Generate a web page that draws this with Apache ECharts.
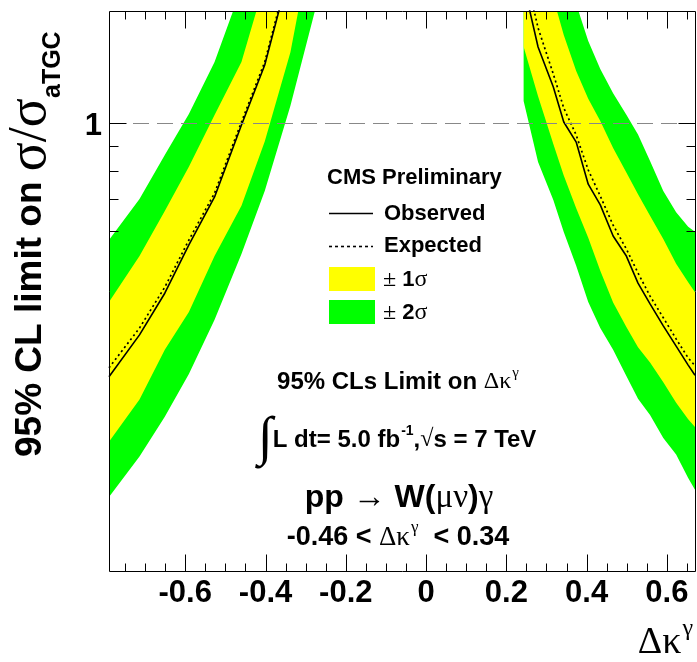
<!DOCTYPE html>
<html><head><meta charset="utf-8">
<script src="https://cdn.jsdelivr.net/npm/echarts@6/dist/echarts.min.js"></script>
<style>html,body{margin:0;padding:0;background:#fff}#c{width:697px;height:662px}</style>
</head><body><div id="c"></div>
<script>
// ---- axis ranges ----
const xMin = -0.79, xMax = 0.67, yMin = 0.12, yMax = 1.7;

// ---- left branch (Δκγ < 0) ----
const xLeft   = [-0.79, -0.714, -0.651, -0.591, -0.527, -0.460, -0.402, -0.338, -0.277];
const obsLeft = [0.302, 0.368, 0.448, 0.563, 0.706, 0.992, 1.317, 2.093, 3.31];
const expLeft = [0.315, 0.380, 0.461, 0.576, 0.719, 1.006, 1.336, 2.123, 3.357];
const p2Left  = [0.576, 0.699, 0.861, 1.045, 1.336, 1.895, 2.577, 3.587, 4.97];
const p1Left  = [0.430, 0.534, 0.661, 0.814, 1.040, 1.336, 1.944, 2.913, 4.334];
const m1Left  = [0.222, 0.271, 0.343, 0.410, 0.534, 0.677, 0.918, 1.399, 2.565];
const m2Left  = [0.171, 0.207, 0.250, 0.306, 0.395, 0.539, 0.726, 1.086, 1.70];

// ---- right branch (Δκγ > 0) ----
const xRight   = [0.243, 0.279, 0.317, 0.343, 0.374, 0.404, 0.434, 0.466, 0.499, 0.528, 0.558, 0.591, 0.623, 0.653, 0.67];
const obsRight = [1.931, 1.434, 1.187, 1.006, 0.915, 0.750, 0.680, 0.587, 0.534, 0.470, 0.426, 0.384, 0.349, 0.319, 0.304];
const expRight = [2.113, 1.569, 1.262, 1.075, 0.946, 0.802, 0.709, 0.618, 0.552, 0.493, 0.442, 0.399, 0.361, 0.330, 0.318];
const p2Right  = [3.814, 3.069, 2.464, 2.113, 1.757, 1.475, 1.292, 1.152, 1.041, 0.948, 0.837, 0.726, 0.657, 0.613, 0.599];
const p1Right  = [2.955, 2.311, 1.807, 1.518, 1.280, 1.123, 1.011, 0.890, 0.793, 0.715, 0.646, 0.579, 0.515, 0.472, 0.450];
const m1Right  = [1.436, 1.136, 0.907, 0.781, 0.669, 0.582, 0.498, 0.429, 0.382, 0.347, 0.323, 0.294, 0.267, 0.247, 0.238];
const m2Right  = [1.111, 0.833, 0.696, 0.598, 0.510, 0.430, 0.380, 0.343, 0.303, 0.272, 0.252, 0.226, 0.209, 0.187, 0.177];

// ---- ticks ----
const xMajorTicks = [-0.6, -0.4, -0.2, 0, 0.2, 0.4, 0.6];
const xMinorTicks = [-0.75, -0.7, -0.65, -0.55, -0.5, -0.45, -0.35, -0.3, -0.25, -0.15, -0.1, -0.05,
                     0.05, 0.1, 0.15, 0.25, 0.3, 0.35, 0.45, 0.5, 0.55, 0.65];
const yMajorTicks = [1];
const yMinorTicks = [0.6, 0.7, 0.8, 0.9];
const yTickLabels = ['1'];
const refLine = 1;

const SANS = 'Liberation Sans', SERIF = 'Liberation Serif';
const GREEN = '#00ff00', YELLOW = '#ffff00';

const chart = echarts.init(document.getElementById('c'), null, {renderer: 'canvas'});
const zip = (xs, ys) => xs.map((x, i) => [x, ys[i]]);

const bands = [
  {xs: xLeft,  lo: m2Left,  hi: p2Left,  color: GREEN},
  {xs: xRight, lo: m2Right, hi: p2Right, color: GREEN},
  {xs: xLeft,  lo: m1Left,  hi: p1Left,  color: YELLOW},
  {xs: xRight, lo: m1Right, hi: p1Right, color: YELLOW}
];

function renderBand(params, api) {
  const b = bands[params.dataIndex];
  const pts = [];
  b.xs.forEach((x, i) => pts.push(api.coord([x, b.lo[i]])));
  for (let i = b.xs.length - 1; i >= 0; i--) pts.push(api.coord([b.xs[i], b.hi[i]]));
  const cs = params.coordSys;
  return {
    type: 'polygon', shape: {points: pts},
    style: {fill: b.color, stroke: null},
    clipPath: {type: 'rect', shape: {x: cs.x, y: cs.y, width: cs.width, height: cs.height}}
  };
}

function renderTicks(params, api) {
  const ch = [];
  const r = v => Math.round(v) + 0.5;
  const L = (x1, y1, x2, y2) => ch.push({type: 'line', shape: {x1, y1, x2, y2}, style: {stroke: '#000', lineWidth: 1}});
  const bl = api.coord([xMin, yMin]), tr = api.coord([xMax, yMax]);
  const left = r(bl[0]), bottom = r(bl[1]) - 1, right = r(tr[0]), top = r(tr[1]);
  const xt = (vals, len) => vals.forEach(v => {
    const px = r(api.coord([v, yMin])[0]);
    L(px, bottom, px, bottom - len); L(px, top, px, top + len);
  });
  const yt = (vals, len) => vals.forEach(v => {
    const py = r(api.coord([xMin, v])[1]);
    L(left, py, left + len, py); L(right, py, right - len, py);
  });
  xt(xMinorTicks, 8); xt(xMajorTicks, 17);
  yt(yMinorTicks, 9); yt(yMajorTicks, 17);
  ch.push({type: 'rect', shape: {x: left, y: top, width: right - left, height: bottom - top},
           style: {fill: null, stroke: '#000', lineWidth: 1}});
  yMajorTicks.forEach((v, i) => {
    const p = api.coord([xMin, v]);
    ch.push({type: 'text', x: p[0] - 7, y: p[1] + 3,
      style: {text: yTickLabels[i], fontSize: 31, fontWeight: 'bold', fontFamily: SANS, fill: '#000',
              align: 'right', verticalAlign: 'middle'}});
  });
  return {type: 'group', children: ch};
}

const lineBase = {type: 'line', symbol: 'none', showSymbol: false, clip: true, silent: true, z: 3};
const obsStyle = {color: '#000', width: 1.6, type: 'solid'};
const expStyle = {color: '#000', width: 1.7, type: [2, 3]};

const rich = (extra) => Object.assign({
  b:   {fontFamily: SANS, fontWeight: 'bold', fontSize: 24, fill: '#000', verticalAlign: 'middle'},
  s:   {fontFamily: SERIF, fontSize: 24, fill: '#000', verticalAlign: 'middle'},
  sup: {fontFamily: SERIF, fontSize: 15, fill: '#000', padding: [0, 0, 18, 1], verticalAlign: 'middle'}
}, extra || {});

const option = {
  animation: false,
  backgroundColor: '#fff',
  grid: {left: 109, right: 2, top: 11, bottom: 90, containLabel: false, outerBoundsMode: 'none'},
  xAxis: {
    type: 'value', min: xMin, max: xMax, z: 10,
    axisLine: {show: false}, axisTick: {show: false}, splitLine: {show: false},
    axisLabel: {customValues: xMajorTicks, formatter: v => String(Math.round(v * 10) / 10),
      fontSize: 31, fontWeight: 'bold', fontFamily: SANS, color: '#000', margin: 6}
  },
  yAxis: {
    type: 'log', logBase: 10, min: yMin, max: yMax,
    axisLine: {show: false}, axisTick: {show: false}, axisLabel: {show: false}, splitLine: {show: false}
  },
  series: [
    {type: 'custom', name: 'bands', renderItem: renderBand, clip: true, silent: true, z: 1,
     data: bands.map(() => [0, 1])},
    Object.assign({}, lineBase, {name: 'obsL', data: zip(xLeft, obsLeft), lineStyle: obsStyle,
      markLine: {silent: true, symbol: 'none', label: {show: false},
        lineStyle: {color: '#888', type: [16, 8], width: 1}, data: [{yAxis: refLine}]}}),
    Object.assign({}, lineBase, {name: 'obsR', data: zip(xRight, obsRight), lineStyle: obsStyle}),
    Object.assign({}, lineBase, {name: 'expL', data: zip(xLeft, expLeft), lineStyle: expStyle}),
    Object.assign({}, lineBase, {name: 'expR', data: zip(xRight, expRight), lineStyle: expStyle}),
    {type: 'custom', name: 'frame', renderItem: renderTicks, silent: true, z: 10, data: [[0, 1]]}
  ],
  graphic: [
    // y axis title
    {type: 'text', x: 31, y: 457, rotation: Math.PI / 2,
     style: {text: '{b|95% CL limit on }{s|σ/σ}{sub|aTGC}', align: 'left', verticalAlign: 'middle',
       rich: {
         b: {fontFamily: SANS, fontWeight: 'bold', fontSize: 37, fill: '#000', verticalAlign: 'middle'},
         s: {fontFamily: SERIF, fontSize: 54, fill: '#000', verticalAlign: 'middle'},
         sub: {fontFamily: SANS, fontWeight: 'bold', fontSize: 25, fill: '#000', padding: [44, 0, 0, 0], verticalAlign: 'middle'}
       }}},
    // x axis title
    {type: 'text', x: 693, y: 643,
     style: {text: '{s|Δκ}{sup|γ}', align: 'right', verticalAlign: 'middle',
       rich: {s: {fontFamily: SERIF, fontSize: 38, fill: '#000', verticalAlign: 'middle'},
              sup: {fontFamily: SERIF, fontSize: 24, fill: '#000', padding: [0, 0, 28, 1], verticalAlign: 'middle'}}}},
    // legend
    {type: 'text', x: 327, y: 178, style: {text: 'CMS Preliminary', fontFamily: SANS, fontWeight: 'bold', fontSize: 22, fill: '#000', align: 'left', verticalAlign: 'middle'}},
    {type: 'line', shape: {x1: 329, y1: 213.5, x2: 373, y2: 213.5}, style: {stroke: '#000', lineWidth: 1.6}},
    {type: 'text', x: 384, y: 214, style: {text: 'Observed', fontFamily: SANS, fontWeight: 'bold', fontSize: 22, fill: '#000', align: 'left', verticalAlign: 'middle'}},
    {type: 'line', shape: {x1: 329, y1: 246.5, x2: 373, y2: 246.5}, style: {stroke: '#000', lineWidth: 1.6, lineDash: [3, 3]}},
    {type: 'text', x: 384, y: 246, style: {text: 'Expected', fontFamily: SANS, fontWeight: 'bold', fontSize: 22, fill: '#000', align: 'left', verticalAlign: 'middle'}},
    {type: 'rect', shape: {x: 329, y: 267, width: 46, height: 24}, style: {fill: YELLOW}},
    {type: 'text', x: 383, y: 280, style: {text: '{s|±}{b| 1}{s|σ}', align: 'left', verticalAlign: 'middle',
       rich: rich({b: {fontFamily: SANS, fontWeight: 'bold', fontSize: 22, fill: '#000', verticalAlign: 'middle'},
                   s: {fontFamily: SERIF, fontSize: 24, fill: '#000', verticalAlign: 'middle'}})}},
    {type: 'rect', shape: {x: 329, y: 300, width: 46, height: 24}, style: {fill: GREEN}},
    {type: 'text', x: 383, y: 313, style: {text: '{s|±}{b| 2}{s|σ}', align: 'left', verticalAlign: 'middle',
       rich: rich({b: {fontFamily: SANS, fontWeight: 'bold', fontSize: 22, fill: '#000', verticalAlign: 'middle'},
                   s: {fontFamily: SERIF, fontSize: 24, fill: '#000', verticalAlign: 'middle'}})}},
    // annotations
    {type: 'text', x: 398, y: 382, style: {text: '{b|95% CLs Limit on }{s|Δκ}{sup|γ}', align: 'center', verticalAlign: 'middle', rich: rich()}},
    {type: 'text', x: 258, y: 440, style: {text: '{int|∫}{b|L dt= 5.0 fb}{sup|-1}{b|,}{s|√}{b|s = 7 TeV}', align: 'left', verticalAlign: 'middle',
       rich: rich({int: {fontFamily: SERIF, fontSize: 54, fill: '#000', verticalAlign: 'middle'},
                   sup: {fontFamily: SANS, fontWeight: 'bold', fontSize: 14, fill: '#000', padding: [0, 0, 18, 1], verticalAlign: 'middle'}})}},
    {type: 'text', x: 399, y: 498, style: {text: '{b|pp }{s|→}{b| W(}{s|μν}{b|)}{s|γ}', align: 'center', verticalAlign: 'middle',
       rich: rich({b: {fontFamily: SANS, fontWeight: 'bold', fontSize: 32, fill: '#000', verticalAlign: 'middle'},
                   s: {fontFamily: SERIF, fontSize: 33, fill: '#000', verticalAlign: 'middle'}})}},
    {type: 'text', x: 398, y: 538, style: {text: '{b|-0.46 < }{s|Δκ}{sup|γ}{b|  < 0.34}', align: 'center', verticalAlign: 'middle',
       rich: rich({b: {fontFamily: SANS, fontWeight: 'bold', fontSize: 27, fill: '#000', verticalAlign: 'middle'},
                   s: {fontFamily: SERIF, fontSize: 27, fill: '#000', verticalAlign: 'middle'},
                   sup: {fontFamily: SERIF, fontSize: 17, fill: '#000', padding: [0, 0, 20, 1], verticalAlign: 'middle'}})}}
  ]
};
chart.setOption(option);
</script></body></html>
